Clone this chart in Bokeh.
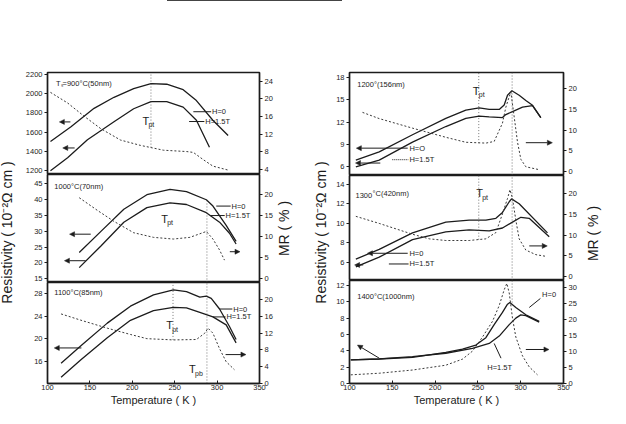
import math
from bokeh.plotting import figure
from bokeh.models import Range1d, LinearAxis, FixedTicker, Label, Arrow, NormalHead, Div, Spacer
from bokeh.layouts import row, column
from bokeh.embed import file_html
from bokeh.resources import INLINE

FONT = "Liberation Sans"
INK = "#1c1c1c"
DOT = "#3a3a3a"

# ------------------------------------------------------------------ data
T_TICKS = [100, 150, 200, 250, 300, 350]

# Ts = 900 C (50 nm)
L1_T_H0 = [103.5, 127.7, 154.9, 178.4, 201.6, 222.0, 240.6, 260.0, 275.6, 295.0, 313.0]
L1_R_H0 = [1503, 1656, 1847, 1962, 2053, 2105, 2098, 2041, 1928, 1723, 1564]
L1_T_H15 = [103.5, 123.7, 147.1, 178.4, 201.6, 222.0, 240.6, 260.0, 275.6, 291.0]
L1_R_H15 = [1197, 1333, 1520, 1707, 1843, 1918, 1918, 1860, 1723, 1442]
L1_T_MR = [103.5, 123.7, 143.2, 162.7, 186.1, 209.5, 222.0, 236.7, 263.9, 272.0, 283.4, 295.0, 313.0]
L1_MR = [21.5, 19.1, 16.1, 13.3, 10.7, 9.5, 9.0, 8.4, 8.1, 7.9, 6.3, 4.8, 3.9]
L1_RHO_TICKS = [1200, 1400, 1600, 1800, 2000, 2200]
L1_MR_TICKS = [4, 8, 12, 16, 20, 24]

# 1000 C (70 nm)
L2_T_H0 = [137.4, 162.7, 190.0, 217.2, 244.5, 263.9, 287.3, 295.1, 310.7, 322.4]
L2_R_H0 = [23.3, 29.9, 37.0, 41.6, 43.3, 42.6, 40.0, 38.0, 31.9, 26.8]
L2_T_H15 = [137.4, 162.7, 190.0, 217.2, 244.5, 263.9, 287.3, 302.9, 314.6, 322.4]
L2_R_H15 = [18.5, 25.3, 32.9, 37.5, 39.0, 38.5, 35.9, 32.9, 29.4, 26.0]
L2_T_MR = [137.4, 158.8, 178.3, 201.6, 225.0, 248.4, 267.9, 287.3, 295.1, 302.9, 308.7]
L2_MR = [19.2, 16.2, 13.6, 10.9, 9.8, 9.4, 9.8, 11.2, 9.4, 6.8, 4.4]
L2_RHO_TICKS = [15, 20, 25, 30, 35, 40, 45]
L2_MR_TICKS = [0, 5, 10, 15, 20]

# 1100 C (85 nm)
L3_T_H0 = [116.0, 139.4, 170.5, 197.8, 225.0, 248.4, 263.9, 279.6, 287.3, 293.1, 302.9, 314.6, 322.4]
L3_R_H0 = [15.7, 18.8, 22.8, 25.8, 27.8, 28.7, 28.4, 27.4, 27.6, 27.2, 25.3, 22.2, 19.9]
L3_T_H15 = [116.0, 139.4, 170.5, 197.8, 225.0, 248.4, 263.9, 279.6, 295.1, 310.7, 322.4]
L3_R_H15 = [13.2, 16.3, 20.2, 23.3, 25.0, 25.6, 25.5, 24.7, 23.9, 22.5, 19.3]
L3_T_MR = [116.0, 139.4, 170.5, 197.8, 217.2, 248.4, 275.6, 285.4, 289.3, 295.1, 302.9, 310.7, 320.4]
L3_MR = [16.6, 15.1, 13.2, 11.7, 10.7, 10.4, 10.5, 12.0, 13.2, 12.0, 8.3, 5.2, 3.3]
L3_RHO_TICKS = [12, 16, 20, 24, 28]
L3_RHO_LABELS = {12: "0"}
L3_MR_TICKS = [0, 4, 8, 12, 16, 20]

# 1200 C (156 nm)
R1_T_H0 = [107.4, 134.7, 173.6, 212.5, 235.9, 251.5, 263.2, 274.9, 280.7, 284.6, 289.7, 298.2, 306.0, 313.8, 323.5]
R1_R_H0 = [6.9, 8.0, 10.3, 12.5, 13.6, 13.9, 13.7, 13.7, 14.3, 15.6, 16.2, 15.6, 14.9, 14.25, 12.6]
R1_T_H15 = [107.4, 134.7, 173.6, 212.5, 235.9, 251.5, 263.2, 278.7, 282.6, 290.4, 302.1, 313.8, 323.5]
R1_R_H15 = [6.0, 6.9, 9.3, 11.4, 12.5, 12.8, 12.7, 12.6, 13.0, 13.4, 14.0, 14.2, 12.6]
R1_T_MR = [115.2, 134.7, 173.6, 212.5, 235.9, 259.3, 269.0, 278.7, 282.6, 286.6, 288.5, 292.4, 296.3, 300.2, 306.0, 321.6]
R1_MR = [14.3, 12.8, 10.5, 8.3, 7.1, 6.9, 7.3, 11.7, 15.5, 18.1, 19.2, 13.2, 7.1, 3.0, 1.2, 0.5]
R1_RHO_TICKS = [6, 9, 12, 15, 18]
R1_MR_TICKS = [0, 5, 10, 15, 20]

# 1300 C (420 nm)
R2_T_H0 = [107.4, 134.7, 173.6, 212.5, 239.8, 259.3, 271.0, 278.7, 286.6, 289.3, 298.2, 331.3]
R2_R_H0 = [6.3, 7.3, 9.0, 10.1, 10.3, 10.3, 10.5, 11.1, 12.2, 12.5, 12.0, 9.0]
R2_T_H15 = [107.4, 134.7, 173.6, 212.5, 239.8, 263.2, 278.7, 290.4, 300.2, 309.9, 333.3]
R2_R_H15 = [5.5, 6.5, 8.3, 9.1, 9.3, 9.2, 9.5, 10.1, 10.6, 10.5, 8.6]
R2_T_MR = [107.4, 134.7, 173.6, 193.1, 212.5, 239.8, 259.3, 271.0, 278.7, 284.6, 287.5, 290.4, 294.3, 298.2, 306.0, 317.7, 329.4]
R2_MR = [14.5, 12.8, 10.2, 9.1, 8.7, 8.7, 9.1, 10.6, 15.1, 18.8, 20.9, 18.8, 13.6, 9.1, 6.4, 5.3, 4.9]
R2_RHO_TICKS = [6, 8, 10, 12, 14]
R2_MR_TICKS = [0, 5, 10, 15, 20]

# 1400 C (1000 nm)
R3_T_H0 = [101.5, 134.7, 173.6, 193.1, 212.5, 232.0, 247.6, 259.3, 269.0, 278.7, 284.6, 287.3, 294.3, 306.0, 321.6]
R3_R_H0 = [2.9, 3.0, 3.2, 3.5, 3.8, 4.2, 4.7, 5.6, 7.2, 8.7, 9.7, 9.9, 9.3, 8.4, 7.6]
R3_T_H15 = [101.5, 134.7, 173.6, 212.5, 243.7, 263.2, 274.9, 286.6, 294.3, 300.1, 306.0, 321.6]
R3_R_H15 = [2.9, 3.0, 3.3, 3.7, 4.3, 4.9, 5.8, 7.2, 8.0, 8.4, 8.3, 7.5]
R3_T_MR = [101.5, 134.7, 173.6, 212.5, 232.0, 243.7, 255.4, 267.1, 274.9, 280.7, 283.8, 286.6, 290.4, 294.3, 302.1, 309.9, 319.6]
R3_MR = [2.7, 3.2, 4.2, 5.7, 7.6, 10.1, 14.5, 19.4, 24.3, 29.2, 31.2, 28.2, 20.4, 14.5, 8.6, 5.2, 2.7]
R3_RHO_TICKS = [0, 2, 4, 6, 8, 10, 12]
R3_MR_TICKS = [0, 5, 10, 15, 20, 25, 30]

RHO_TITLE = "Resistivity ( 10\u207b\u00b2\u03a9 cm )"
MR_TITLE = "MR ( % )"
T_TITLE = "Temperature ( K )"


# ------------------------------------------------------------------ helpers
def style(ax, tin, tout):
    ax.axis_line_color = INK
    ax.axis_line_width = 1.3
    ax.major_tick_line_color = INK
    ax.major_tick_line_width = 1
    ax.major_tick_in = tin
    ax.major_tick_out = tout
    ax.minor_tick_line_color = None
    ax.major_label_text_font = FONT
    ax.major_label_text_font_size = "7.5px"
    ax.major_label_text_color = INK
    ax.major_label_standoff = 2


def panel(width, height, bl, br, bt, bb, yr, mr, rho_ticks, mr_ticks, over=None, bottom=False):
    p = figure(width=width, height=height, x_range=Range1d(100, 350), y_range=Range1d(*yr),
               x_axis_type=None, y_axis_type=None, toolbar_location=None, output_backend="svg",
               min_border_left=bl, min_border_right=br, min_border_top=bt, min_border_bottom=bb,
               outline_line_color=INK, outline_line_width=1.5)
    p.extra_y_ranges = {"mr": Range1d(*mr)}
    la = LinearAxis(ticker=FixedTicker(ticks=rho_ticks))
    if over:
        la.major_label_overrides = over
    ra = LinearAxis(y_range_name="mr", ticker=FixedTicker(ticks=mr_ticks))
    style(la, 0, 3)
    style(ra, 0, 3)
    p.add_layout(la, "left")
    p.add_layout(ra, "right")
    if bottom:
        ba = LinearAxis(ticker=FixedTicker(ticks=T_TICKS))
        style(ba, 3, 0)
        ba.major_label_standoff = 1
        ba.axis_label = T_TITLE
        ba.axis_label_text_font = FONT
        ba.axis_label_text_font_size = "11px"
        ba.axis_label_text_font_style = "normal"
        ba.axis_label_text_color = INK
        ba.axis_label_standoff = 1
        p.add_layout(ba, "below")
    return p


def curves(p, t0, r0, t1, r1, tm, m):
    p.line(t0, r0, line_color=INK, line_width=1.3)
    p.line(t1, r1, line_color=INK, line_width=1.3)
    p.line(tm, m, y_range_name="mr", line_color=DOT, line_width=1.0, line_dash="2 2")


def txt(p, x, y, s, size="7.5px", yrn="default", align="left", base="middle", xo=0, yo=0):
    p.add_layout(Label(x=x, y=y, text=s, text_font=FONT, text_font_size=size, text_color=INK,
                       text_align=align, text_baseline=base, y_range_name=yrn,
                       x_offset=xo, y_offset=yo))


def sub_label(p, x, y, main, sub):
    txt(p, x, y, main, size="11px")
    txt(p, x, y, sub, size="7px", xo=6, yo=-4)


def arrow(p, x0, y0, x1, y1, yrn="default"):
    p.add_layout(Arrow(end=NormalHead(size=5, fill_color=INK, line_color=INK, line_width=0.5),
                       x_start=x0, y_start=y0, x_end=x1, y_end=y1,
                       line_color=INK, line_width=1.0, y_range_name=yrn))


def lead(p, x0, x1, y0, y1=None, dash="solid"):
    p.line([x0, x1], [y0, y0 if y1 is None else y1], line_color=INK, line_width=1.0, line_dash=dash)


def vdot(p, x, y0, y1, yrn="default"):
    p.line([x, x], [y0, y1], y_range_name=yrn, line_color="#555555", line_width=0.8, line_dash="1 2")


# ------------------------------------------------------------------ left column
LW, RW = 253, 246
L1 = panel(LW, 172, 23, 16, 70, 0, (1159, 2220), (2.9, 26.0), L1_RHO_TICKS, L1_MR_TICKS)
curves(L1, L1_T_H0, L1_R_H0, L1_T_H15, L1_R_H15, L1_T_MR, L1_MR)
vdot(L1, 222, 9.0, 26.0, "mr")
txt(L1, 110, 2110, "T\u209b=900\u00b0C(50nm)")
sub_label(L1, 212, 1720, "T", "pt")
lead(L1, 272, 293, 1812)
txt(L1, 294, 1812, "H=0")
lead(L1, 267, 285, 1710)
txt(L1, 286, 1710, "H=1.5T")
arrow(L1, 127, 1706, 114, 1706)
arrow(L1, 132, 1435, 118, 1435)

L2 = panel(LW, 108, 23, 16, 0, 0, (13.8, 48.0), (-0.9, 24.7), L2_RHO_TICKS, L2_MR_TICKS)
curves(L2, L2_T_H0, L2_R_H0, L2_T_H15, L2_R_H15, L2_T_MR, L2_MR)
vdot(L2, 288, 13.8, 39.5)
txt(L2, 108, 44.1, "1000\u00b0C(70nm)")
sub_label(L2, 234, 34.0, "T", "pt")
lead(L2, 299, 316, 38.0)
txt(L2, 317, 38.0, "H=0")
lead(L2, 292, 309, 35.0)
txt(L2, 310, 35.0, "H=1.5T")
arrow(L2, 151, 29.1, 126, 29.1)
arrow(L2, 145, 20.7, 120, 20.7)
arrow(L2, 315, 6.4, 327, 6.4, "mr")

L3 = panel(LW, 126, 23, 16, 0, 25, (12.1, 30.0), (0, 24.1), L3_RHO_TICKS, L3_MR_TICKS,
           over=L3_RHO_LABELS, bottom=True)
curves(L3, L3_T_H0, L3_R_H0, L3_T_H15, L3_R_H15, L3_T_MR, L3_MR)
vdot(L3, 248, 10.4, 24.1, "mr")
vdot(L3, 288, 12.1, 30.0)
txt(L3, 108, 28.3, "1100\u00b0C(85nm)")
sub_label(L3, 240, 22.4, "T", "pt")
sub_label(L3, 267, 14.6, "T", "pb")
lead(L3, 303, 318, 25.3)
txt(L3, 319, 25.3, "H=0")
lead(L3, 295, 310, 23.9)
txt(L3, 311, 23.9, "H=1.5T")
arrow(L3, 140, 18.4, 108, 18.4)
arrow(L3, 310, 6.9, 334, 6.9, "mr")

# ------------------------------------------------------------------ right column
R1 = panel(RW, 173, 16, 16, 70, 0, (4.83, 18.65), (-0.9, 23.9), R1_RHO_TICKS, R1_MR_TICKS)
curves(R1, R1_T_H0, R1_R_H0, R1_T_H15, R1_R_H15, R1_T_MR, R1_MR)
vdot(R1, 251, 6.9, 23.9, "mr")
vdot(R1, 290, -0.9, 23.9, "mr")
txt(R1, 109, 17.1, "1200\u00b0(156nm)")
sub_label(R1, 244, 16.2, "T", "pt")
arrow(R1, 168, 8.5, 108, 8.5)
txt(R1, 170, 8.5, "H=O")
lead(R1, 150, 169, 6.95, dash="1 1")
txt(R1, 170, 6.95, "H=1.5T")
arrow(R1, 136, 6.5, 107, 6.5)
arrow(R1, 306, 7.0, 337, 7.0, "mr")

R2 = panel(RW, 105, 16, 16, 0, 0, (4.1, 14.9), (-0.9, 24.3), R2_RHO_TICKS, R2_MR_TICKS)
curves(R2, R2_T_H0, R2_R_H0, R2_T_H15, R2_R_H15, R2_T_MR, R2_MR)
vdot(R2, 251, 8.9, 24.3, "mr")
vdot(R2, 290, -0.9, 24.3, "mr")
txt(R2, 107, 12.8, "1300")
txt(R2, 127, 13.1, "\u00b0C(420nm)")
sub_label(R2, 248, 13.1, "T", "pt")
arrow(R2, 168, 6.9, 121, 6.9)
txt(R2, 170, 6.9, "H=0")
lead(R2, 146, 169, 5.8)
txt(R2, 170, 5.8, "H=1.5T")
arrow(R2, 116, 5.7, 106, 5.7)
arrow(R2, 310, 7.4, 331, 7.4, "mr")

R3 = panel(RW, 128, 16, 16, 0, 25, (0, 12.6), (0, 32.1), R3_RHO_TICKS, R3_MR_TICKS, bottom=True)
curves(R3, R3_T_H0, R3_R_H0, R3_T_H15, R3_R_H15, R3_T_MR, R3_MR)
vdot(R3, 290, 9.9, 12.6)
txt(R3, 109, 10.7, "1400\u00b0C(1000nm)")
lead(R3, 310, 323, 9.3, 10.4)
txt(R3, 325, 10.9, "H=0")
lead(R3, 269, 277, 4.9, 3.1)
txt(R3, 261, 1.95, "H=1.5T")
arrow(R3, 134.7, 3.1, 109.3, 4.7)
arrow(R3, 306, 10.6, 333, 10.6, "mr")


# ------------------------------------------------------------------ title strips
STRIP_H = 406


def strip(width):
    s = figure(width=width, height=STRIP_H, x_range=Range1d(0, width), y_range=Range1d(STRIP_H, 0),
               x_axis_type=None, y_axis_type=None, toolbar_location=None, output_backend="svg",
               min_border=0, outline_line_color=None)
    return s


def vtitle(s, x, y, t):
    s.add_layout(Label(x=x, y=y, text=t, angle=math.pi / 2, text_align="center", text_baseline="middle",
                       text_font=FONT, text_font_size="14px", text_color=INK))


SL = strip(22)
vtitle(SL, 6, 230, RHO_TITLE)
SM = strip(58)
vtitle(SM, 8, 226, MR_TITLE)
vtitle(SM, 45, 230, RHO_TITLE)
SR = strip(31)
vtitle(SR, 13, 231, MR_TITLE)

# remnant of the table above the figure
top_line = row(Spacer(width=167, height=2, margin=0),
               Div(text="", width=175, height=2, margin=0,
                   styles={"border-top": "1.5px solid #444", "box-sizing": "border-box",
                           "padding": "0px", "overflow": "hidden"}),
               margin=0)

body = row(SL, column(L1, L2, L3), SM, column(R1, R2, R3), SR, margin=0)
p = column(top_line, body, margin=0)

open("out.html", "w").write(file_html(p, INLINE))
